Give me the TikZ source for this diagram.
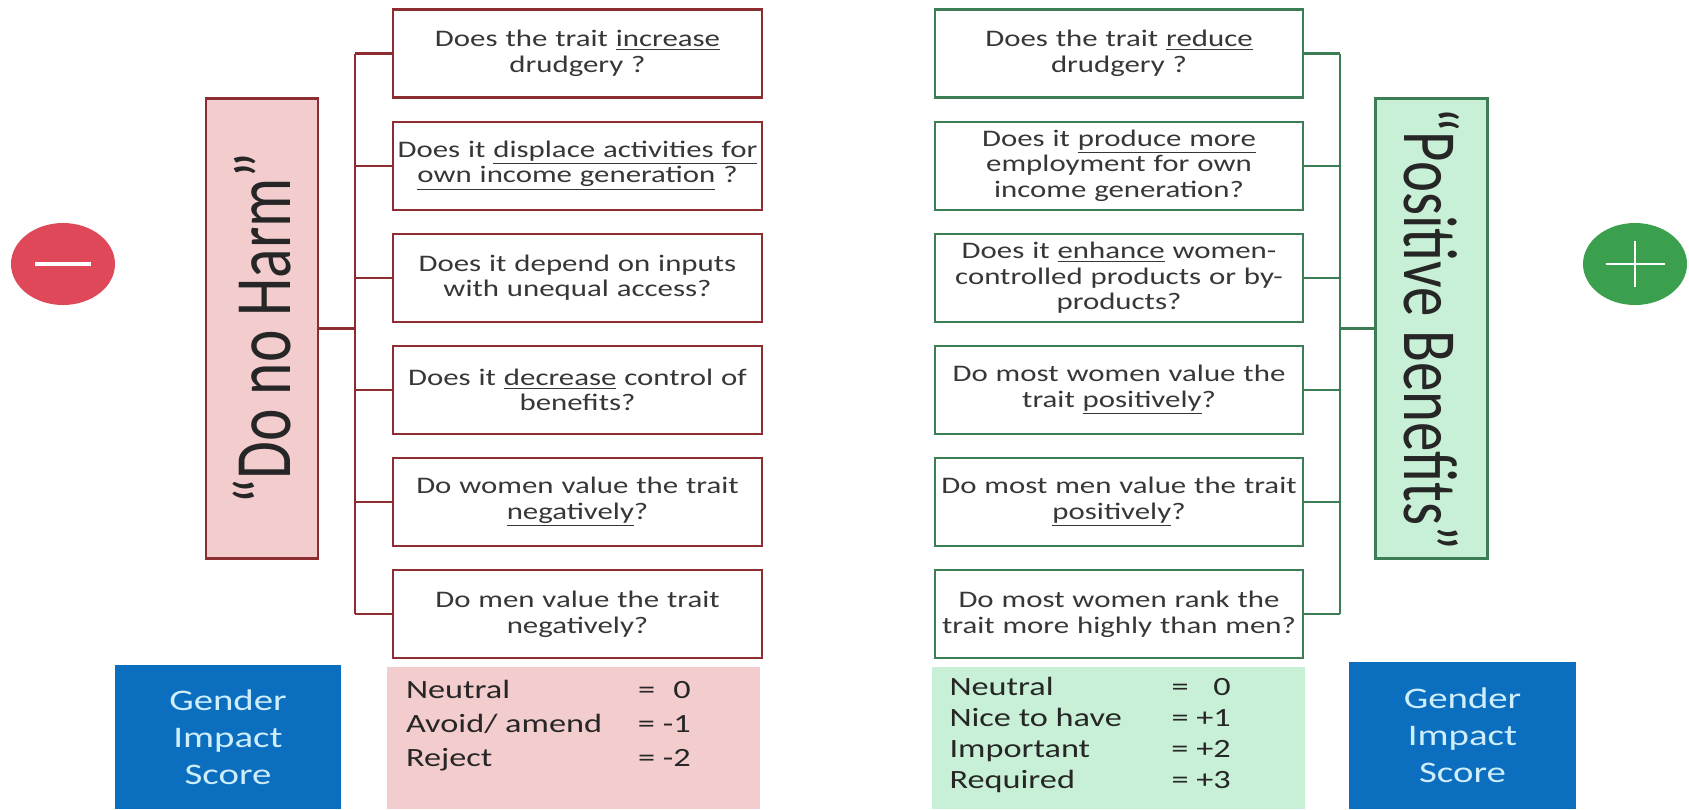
\documentclass[tikz,border=0pt]{standalone}
\usepackage{fontspec}
\setmainfont{Carlito}[FakeStretch=1.3]
\newfontfamily\plainfont{Carlito}
\usepackage{graphicx}
\definecolor{harmred}{RGB}{140,45,50}
\definecolor{harmfill}{RGB}{243,205,206}
\definecolor{benefitgreen}{RGB}{60,125,85}
\definecolor{benefitfill}{RGB}{200,240,214}
\definecolor{minusred}{RGB}{222,72,88}
\definecolor{plusgreen}{RGB}{58,160,78}
\definecolor{scoreblue}{RGB}{12,110,190}
\definecolor{scoretext}{RGB}{205,238,250}
\definecolor{qtext}{RGB}{55,55,55}
\usetikzlibrary{positioning, shapes.geometric}

\begin{document}
\begin{tikzpicture}[
    qbox/.style={draw=#1, line width=1.2pt, fill=white, text width=7.3cm,
      minimum height=1.76cm, inner sep=1pt, align=center, text=qtext,
      font=\fontsize{13.5}{14.5}\selectfont},
    titlebox/.style={draw=#1, line width=1.2pt, minimum width=9.2cm,
      minimum height=2.24cm, inner sep=0pt, text={black!85},
      font=\plainfont\fontsize{35}{38}\selectfont},
    branch/.style={draw=#1, line width=1.2pt},
    gisbox/.style={fill=scoreblue, text=scoretext, minimum width=4.52cm,
      minimum height=2.88cm, align=center, font=\fontsize{17}{21}\selectfont},
    scorebox/.style={minimum width=7.46cm, minimum height=2.84cm, inner sep=0pt},
    scoretab/.style={anchor=north west, inner sep=0pt, text={black!85}},
    sign/.style={ellipse, minimum width=2.08cm, minimum height=1.64cm, inner sep=0pt},
    node distance=0.44cm,
  ]
    \useasboundingbox[fill=white] (0,0) rectangle (33.78,-16.18);

    % do no harm side
    \node[qbox=harmred] (lq1) at (11.55,-1.07) {Does the trait \underline{increase}\\drudgery ?};
    \node[qbox=harmred, below=of lq1] (lq2) {Does it \underline{displace activities for}\\\underline{own income generation} ?};
    \node[qbox=harmred, below=of lq2] (lq3) {Does it depend on inputs\\with unequal access?};
    \node[qbox=harmred, below=of lq3] (lq4) {Does it \underline{decrease} control of\\benefits?};
    \node[qbox=harmred, below=of lq4] (lq5) {Do women value the trait\\\underline{negatively}?};
    \node[qbox=harmred, below=of lq5] (lq6) {Do men value the trait\\negatively?};

    \node[titlebox=harmred, fill=harmfill, rotate=90] (harm) at (5.24,-6.57)
      {\scalebox{1}[1.3]{“Do no Harm”}};
    \coordinate (lbar) at (7.1,0);
    \foreach \i in {1,...,6}
      \draw[branch=harmred] (lq\i.west) -- (lq\i.west -| lbar);
    \draw[branch=harmred] (lq1.west -| lbar) -- (lq6.west -| lbar);
    \draw[branch=harmred] (harm.south) -- (harm.south -| lbar);

    % positive benefits side
    \node[qbox=benefitgreen] (rq1) at (22.38,-1.07) {Does the trait \underline{reduce}\\drudgery ?};
    \node[qbox=benefitgreen, below=of rq1] (rq2) {Does it \underline{produce more}\\employment for own\\income generation?};
    \node[qbox=benefitgreen, below=of rq2] (rq3) {Does it \underline{enhance} women-\\controlled products or by-\\products?};
    \node[qbox=benefitgreen, below=of rq3] (rq4) {Do most women value the\\trait \underline{positively}?};
    \node[qbox=benefitgreen, below=of rq4] (rq5) {Do most men value the trait\\\underline{positively}?};
    \node[qbox=benefitgreen, below=of rq5] (rq6) {Do most women rank the\\trait more highly than men?};

    \node[titlebox=benefitgreen, fill=benefitfill, rotate=-90,
      font=\plainfont\fontsize{33.5}{36}\selectfont] (benefit) at (28.63,-6.57)
      {\scalebox{1}[1.3]{“Positive Benefits”}};
    \coordinate (rbar) at (26.8,0);
    \foreach \i in {1,...,6}
      \draw[branch=benefitgreen] (rq\i.east) -- (rq\i.east -| rbar);
    \draw[branch=benefitgreen] (rq1.east -| rbar) -- (rq6.east -| rbar);
    \draw[branch=benefitgreen] (benefit.south) -- (benefit.south -| rbar);

    % signs
    \node[sign, fill=minusred] (minus) at (1.26,-5.28) {};
    \draw[white, line width=2.5pt] ([xshift=-0.56cm]minus.center) -- ([xshift=0.56cm]minus.center);
    \node[sign, fill=plusgreen] (plus) at (32.7,-5.28) {};
    \draw[white, line width=1.4pt] ([xshift=-0.59cm]plus.center) -- ([xshift=0.59cm]plus.center);
    \draw[white, line width=1.4pt] ([yshift=-0.46cm]plus.center) -- ([yshift=0.46cm]plus.center);

    % scores
    \node[gisbox] (lgis) at (4.56,-14.74) {Gender\\Impact\\Score};
    \node[scorebox, fill=harmfill] (lscore) at (11.47,-14.76) {};
    \node[scoretab] (ltab) at ([xshift=0.38cm, yshift=-0.16cm]lscore.north west)
      {\fontsize{15}{19.3}\selectfont
       \begin{tabular}{@{}p{4.64cm}@{}l@{}}
         Neutral & = \phantom{-}0\\
         Avoid/ amend & = -1\\
         Reject & = -2
       \end{tabular}};
    \node[scorebox, fill=benefitfill] (rscore) at (22.36,-14.76) {};
    \node[scoretab] (rtab) at ([xshift=0.36cm, yshift=-0.14cm]rscore.north west)
      {\fontsize{15}{17.6}\selectfont
       \begin{tabular}{@{}p{4.44cm}@{}l@{}}
         Neutral & = \phantom{+}0\\
         Nice to have & = +1\\
         Important & = +2\\
         Required & = +3
       \end{tabular}};
    \node[gisbox, minimum width=4.54cm, minimum height=2.94cm] (rgis) at (29.25,-14.71) {Gender\\Impact\\Score};
  \end{tikzpicture}
\end{document}
